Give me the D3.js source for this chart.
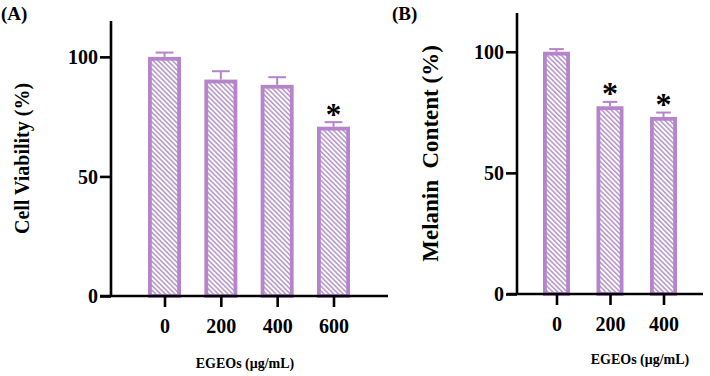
<!DOCTYPE html>
<html>
<head>
<meta charset="utf-8">
<script src="https://cdn.jsdelivr.net/npm/d3@7"></script>
<style>
  html, body { margin: 0; padding: 0; background: #fff; }
  svg { display: block; }
  text { font-family: "Liberation Serif", "Times New Roman", serif; font-weight: bold; fill: #000; }
</style>
</head>
<body>
<svg id="chart" width="710" height="376"></svg>
<script>
// ---- Data ----
const categoriesA = ["0", "200", "400", "600"];
const valuesA = [100, 90.5, 88.3, 70.8];
const errorsA = [1.8, 3.5, 3.2, 1.9];
const signifA = [false, false, false, true];
const yTicksA = [0, 50, 100];

const categoriesB = ["0", "200", "400"];
const valuesB = [100, 77.5, 73.1];
const errorsB = [1.1, 1.8, 1.8];
const signifB = [false, true, true];
const yTicksB = [0, 50, 100];

const panelLabels = ["(A)", "(B)"];
const yTitles = ["Cell Viability (%)", "Melanin\u00a0 Content (%)"];
const xTitle = "EGEOs (\u03bcg/mL)";

// ---- Styles ----
const barColor = "#b584ca";
const hatchColor = "#a882bf";

const svg = d3.select("#chart");
const defs = svg.append("defs");
const pat = defs.append("pattern")
  .attr("id", "hatch")
  .attr("patternUnits", "userSpaceOnUse")
  .attr("width", 3.4).attr("height", 10)
  .attr("patternTransform", "rotate(-45)");
pat.append("rect").attr("width", 3.4).attr("height", 10).attr("fill", "#fff");
pat.append("line").attr("x1", 0.8).attr("x2", 0.8).attr("y1", 0).attr("y2", 10)
  .attr("stroke", hatchColor).attr("stroke-width", 1.3);

function drawPanel(cfg) {
  const g = svg.append("g");
  const y = d3.scaleLinear().domain([0, cfg.yMax]).range([cfg.yBottom, cfg.yTop]);
  const x = d3.scalePoint().domain(cfg.categories).range([cfg.xFirst, cfg.xLast]);
  const sw = 3.8;
  const bw = cfg.barWidth;
  const rows = cfg.categories.map((c, i) => ({ c, v: cfg.values[i], e: cfg.errors[i], s: cfg.signif[i] }));

  // bars
  g.selectAll("rect.bar").data(rows).enter().append("rect")
    .attr("class", "bar")
    .attr("x", d => x(d.c) - bw / 2 + sw / 2)
    .attr("width", bw - sw)
    .attr("y", d => y(d.v) + sw / 2)
    .attr("height", d => y(0) - y(d.v) - sw / 2)
    .attr("fill", "url(#hatch)")
    .attr("stroke", barColor)
    .attr("stroke-width", sw);

  // error bars
  const eb = g.selectAll("g.err").data(rows).enter().append("g").attr("class", "err");
  eb.append("line")
    .attr("x1", d => x(d.c)).attr("x2", d => x(d.c))
    .attr("y1", d => y(d.v)).attr("y2", d => y(d.v + d.e))
    .attr("stroke", barColor).attr("stroke-width", 2);
  eb.append("line")
    .attr("x1", d => x(d.c) - bw * 0.27)
    .attr("x2", d => x(d.c) + bw * 0.27)
    .attr("y1", d => y(d.v + d.e)).attr("y2", d => y(d.v + d.e))
    .attr("stroke", barColor).attr("stroke-width", 2);

  // significance asterisks
  g.selectAll("text.star").data(rows.filter(d => d.s)).enter()
    .append("text").attr("class", "star")
    .attr("x", d => x(d.c))
    .attr("y", d => y(d.v + d.e) + cfg.starDy)
    .attr("text-anchor", "middle")
    .style("font-size", cfg.starSize + "px")
    .text("*");

  // y axis
  const yAxis = d3.axisLeft(y).tickValues(cfg.yTicks).tickSize(11).tickPadding(2);
  const ya = g.append("g").attr("transform", `translate(${cfg.xAxisPos},0)`).call(yAxis);
  ya.select(".domain").attr("d", `M0,${cfg.yTop}V${cfg.yBottom}`).attr("stroke", "#000").attr("stroke-width", 2.6);
  ya.selectAll(".tick line").attr("stroke", "#000").attr("stroke-width", 2.6);
  ya.selectAll(".tick text").style("font-size", "20px").attr("dy", "0.34em").attr("font-family", null);

  // x axis
  const xAxis = d3.axisBottom(x).tickSize(11).tickPadding(12);
  const xa = g.append("g").attr("transform", `translate(0,${cfg.yBottom})`).call(xAxis);
  xa.select(".domain").attr("d", `M${cfg.xAxisStart},0H${cfg.xAxisEnd}`).attr("stroke", "#000").attr("stroke-width", 2.6);
  xa.selectAll(".tick line").attr("stroke", "#000").attr("stroke-width", 2.6);
  xa.selectAll(".tick text").style("font-size", "20px").attr("dy", "0.71em").attr("font-family", null);

  // titles
  g.append("text")
    .attr("transform", `translate(${cfg.yTitleX},${(cfg.yTop + cfg.yBottom) / 2}) rotate(-90)`)
    .attr("text-anchor", "middle")
    .style("font-size", cfg.yTitleSize + "px")
    .text(cfg.yTitle);
  g.append("text")
    .attr("x", cfg.xTitleX).attr("y", cfg.xTitleY)
    .attr("text-anchor", "middle")
    .style("font-size", "14px")
    .text(xTitle);
  g.append("text")
    .attr("x", cfg.labelX).attr("y", 20)
    .style("font-size", "19px")
    .text(cfg.label);
}

drawPanel({
  categories: categoriesA, values: valuesA, errors: errorsA, signif: signifA, yTicks: yTicksA,
  yMax: 115, yTop: 21, yBottom: 296, xFirst: 164.5, xLast: 333.5, barWidth: 33,
  xAxisPos: 111, xAxisStart: 100, xAxisEnd: 388,
  yTitle: yTitles[0], yTitleX: 29, yTitleSize: 20,
  xTitleX: 245, xTitleY: 368, label: panelLabels[0], labelX: 1,
  starDy: 3, starSize: 31
});

drawPanel({
  categories: categoriesB, values: valuesB, errors: errorsB, signif: signifB, yTicks: yTicksB,
  yMax: 116, yTop: 13, yBottom: 294, xFirst: 556.5, xLast: 663.5, barWidth: 27,
  xAxisPos: 517, xAxisStart: 507, xAxisEnd: 703,
  yTitle: yTitles[1], yTitleX: 438, yTitleSize: 23,
  xTitleX: 640, xTitleY: 364, label: panelLabels[1], labelX: 392,
  starDy: 2, starSize: 32
});
</script>
</body>
</html>
